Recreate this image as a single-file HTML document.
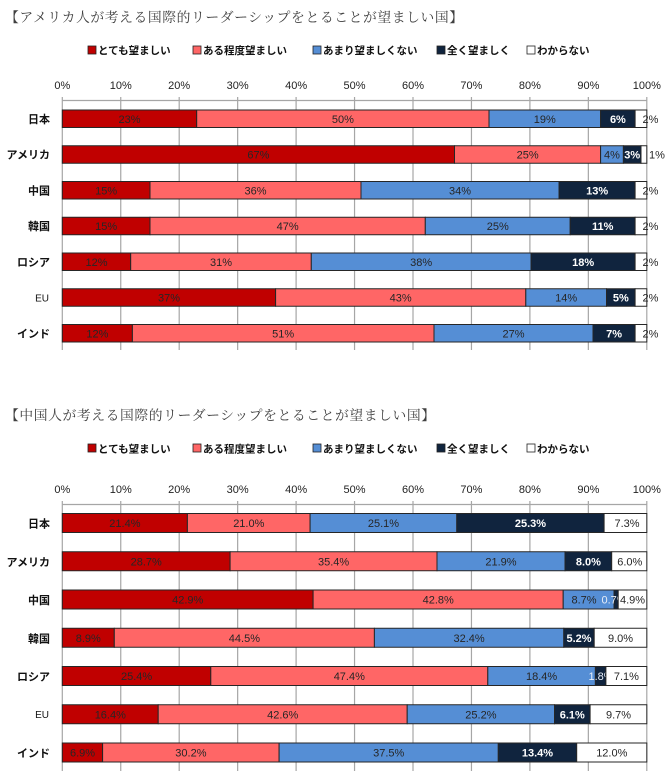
<!DOCTYPE html>
<html><head><meta charset="utf-8"><style>
html,body{margin:0;padding:0;background:#fff;width:670px;height:784px;overflow:hidden}
svg{display:block}
.t{font-family:"Noto Serif CJK SC","Noto Serif CJK JP",serif;font-size:13.8px;fill:#404040}
.lg{font-family:"Liberation Sans","Noto Sans CJK JP",sans-serif;font-size:10.5px;font-weight:bold;fill:#111}
.tk{font-family:"Liberation Sans",sans-serif;font-size:11px;fill:#222;text-anchor:middle}
.cat{font-family:"Liberation Sans","Noto Sans CJK JP",sans-serif;font-size:11px;font-weight:bold;fill:#111;text-anchor:end}
.eu{font-family:"Liberation Sans",sans-serif;font-size:10px;fill:#111;text-anchor:end}
.v{font-family:"Liberation Sans",sans-serif;font-size:11px;fill:#262626;text-anchor:middle}
.w{font-family:"Liberation Sans",sans-serif;font-size:11px;fill:#fff;font-weight:bold;text-anchor:middle}
.g{stroke:#a6a6a6;stroke-width:1.2}
.r{stroke:#262626;stroke-width:1}
</style></head><body>
<svg width="670" height="784" viewBox="0 0 670 784" xmlns="http://www.w3.org/2000/svg">
<!-- ===== TOP CHART ===== -->
<text x="5" y="22" class="t" textLength="458" lengthAdjust="spacing">【アメリカ人が考える国際的リーダーシップをとることが望ましい国】</text>
<g>
<rect x="88" y="46" width="8" height="8" fill="#C00000" stroke="#222" stroke-width="0.8"/><text x="98" y="54" class="lg">とても望ましい</text>
<rect x="193" y="46" width="8" height="8" fill="#FF6666" stroke="#222" stroke-width="0.8"/><text x="203" y="54" class="lg">ある程度望ましい</text>
<rect x="313" y="46" width="8" height="8" fill="#558ED5" stroke="#222" stroke-width="0.8"/><text x="323" y="54" class="lg">あまり望ましくない</text>
<rect x="437" y="46" width="8" height="8" fill="#10243E" stroke="#222" stroke-width="0.8"/><text x="447" y="54" class="lg">全く望ましく</text>
<rect x="527" y="46" width="8" height="8" fill="#fff" stroke="#222" stroke-width="0.8"/><text x="537" y="54" class="lg">わからない</text>
</g>
<g>
<text x="62.3" y="89" class="tk">0%</text><text x="120.75" y="89" class="tk">10%</text><text x="179.2" y="89" class="tk">20%</text><text x="237.65" y="89" class="tk">30%</text><text x="296.1" y="89" class="tk">40%</text><text x="354.55" y="89" class="tk">50%</text><text x="413" y="89" class="tk">60%</text><text x="471.45" y="89" class="tk">70%</text><text x="529.9" y="89" class="tk">80%</text><text x="588.35" y="89" class="tk">90%</text><text x="646.8" y="89" class="tk">100%</text>
</g>
<g class="g">
<line x1="62.3" y1="97" x2="62.3" y2="350"/><line x1="120.75" y1="97" x2="120.75" y2="350"/><line x1="179.2" y1="97" x2="179.2" y2="350"/><line x1="237.65" y1="97" x2="237.65" y2="350"/><line x1="296.1" y1="97" x2="296.1" y2="350"/><line x1="354.55" y1="97" x2="354.55" y2="350"/><line x1="413" y1="97" x2="413" y2="350"/><line x1="471.45" y1="97" x2="471.45" y2="350"/><line x1="529.9" y1="97" x2="529.9" y2="350"/><line x1="588.35" y1="97" x2="588.35" y2="350"/><line x1="646.8" y1="97" x2="646.8" y2="350"/>
<line x1="62.3" y1="100.5" x2="646.8" y2="100.5"/>
</g>
<text x="50" y="123" class="cat">日本</text>
<text x="50" y="158.5" class="cat">アメリカ</text>
<text x="50" y="194.5" class="cat">中国</text>
<text x="50" y="230" class="cat">韓国</text>
<text x="50" y="266" class="cat">ロシア</text>
<text x="49" y="301.5" class="eu">EU</text>
<text x="50" y="337.5" class="cat">インド</text>
<g class="r">
<rect x="62.3" y="110" width="134.4" height="17.5" fill="#C00000"/>
<rect x="196.7" y="110" width="292.3" height="17.5" fill="#FF6666"/>
<rect x="489" y="110" width="111.6" height="17.5" fill="#558ED5"/>
<rect x="600.6" y="110" width="34.5" height="17.5" fill="#10243E"/>
<rect x="635.1" y="110" width="11.7" height="17.5" fill="#fff"/>
</g>
<text x="129.5" y="122.75" class="v">23%</text><text x="342.9" y="122.75" class="v">50%</text><text x="544.8" y="122.75" class="v">19%</text><text x="617.9" y="122.75" class="w">6%</text><text x="650.5" y="122.75" class="v">2%</text>
<g class="r">
<rect x="62.3" y="145.75" width="392.2" height="17.5" fill="#C00000"/>
<rect x="454.5" y="145.75" width="146.1" height="17.5" fill="#FF6666"/>
<rect x="600.6" y="145.75" width="22.8" height="17.5" fill="#558ED5"/>
<rect x="623.4" y="145.75" width="17.6" height="17.5" fill="#10243E"/>
<rect x="641" y="145.75" width="5.8" height="17.5" fill="#fff"/>
</g>
<text x="258.4" y="158.5" class="v">67%</text><text x="527.6" y="158.5" class="v">25%</text><text x="612" y="158.5" class="v">4%</text><text x="632.2" y="158.5" class="w">3%</text><text x="657" y="158.5" class="v">1%</text>
<g class="r">
<rect x="62.3" y="181.5" width="87.7" height="17.5" fill="#C00000"/>
<rect x="150" y="181.5" width="211" height="17.5" fill="#FF6666"/>
<rect x="361" y="181.5" width="198.1" height="17.5" fill="#558ED5"/>
<rect x="559.1" y="181.5" width="76" height="17.5" fill="#10243E"/>
<rect x="635.1" y="181.5" width="11.7" height="17.5" fill="#fff"/>
</g>
<text x="106.1" y="194.25" class="v">15%</text><text x="255.5" y="194.25" class="v">36%</text><text x="460" y="194.25" class="v">34%</text><text x="597.1" y="194.25" class="w">13%</text><text x="650.5" y="194.25" class="v">2%</text>
<g class="r">
<rect x="62.3" y="217.25" width="87.7" height="17.5" fill="#C00000"/>
<rect x="150" y="217.25" width="275.3" height="17.5" fill="#FF6666"/>
<rect x="425.3" y="217.25" width="144.9" height="17.5" fill="#558ED5"/>
<rect x="570.2" y="217.25" width="64.9" height="17.5" fill="#10243E"/>
<rect x="635.1" y="217.25" width="11.7" height="17.5" fill="#fff"/>
</g>
<text x="106.1" y="230" class="v">15%</text><text x="287.6" y="230" class="v">47%</text><text x="497.8" y="230" class="v">25%</text><text x="602.7" y="230" class="w">11%</text><text x="650.5" y="230" class="v">2%</text>
<g class="r">
<rect x="62.3" y="253" width="68.4" height="17.5" fill="#C00000"/>
<rect x="130.7" y="253" width="180.6" height="17.5" fill="#FF6666"/>
<rect x="311.3" y="253" width="219.8" height="17.5" fill="#558ED5"/>
<rect x="531.1" y="253" width="104" height="17.5" fill="#10243E"/>
<rect x="635.1" y="253" width="11.7" height="17.5" fill="#fff"/>
</g>
<text x="96.5" y="265.75" class="v">12%</text><text x="221" y="265.75" class="v">31%</text><text x="421.2" y="265.75" class="v">38%</text><text x="583.1" y="265.75" class="w">18%</text><text x="650.5" y="265.75" class="v">2%</text>
<g class="r">
<rect x="62.3" y="288.75" width="213.3" height="17.5" fill="#C00000"/>
<rect x="275.6" y="288.75" width="250.2" height="17.5" fill="#FF6666"/>
<rect x="525.8" y="288.75" width="80.7" height="17.5" fill="#558ED5"/>
<rect x="606.5" y="288.75" width="28.6" height="17.5" fill="#10243E"/>
<rect x="635.1" y="288.75" width="11.7" height="17.5" fill="#fff"/>
</g>
<text x="169" y="301.5" class="v">37%</text><text x="400.7" y="301.5" class="v">43%</text><text x="566.2" y="301.5" class="v">14%</text><text x="620.8" y="301.5" class="w">5%</text><text x="650.5" y="301.5" class="v">2%</text>
<g class="r">
<rect x="62.3" y="324.5" width="70.1" height="17.5" fill="#C00000"/>
<rect x="132.4" y="324.5" width="301.6" height="17.5" fill="#FF6666"/>
<rect x="434" y="324.5" width="159" height="17.5" fill="#558ED5"/>
<rect x="593" y="324.5" width="42.1" height="17.5" fill="#10243E"/>
<rect x="635.1" y="324.5" width="11.7" height="17.5" fill="#fff"/>
</g>
<text x="97.4" y="337.25" class="v">12%</text><text x="283.2" y="337.25" class="v">51%</text><text x="513.5" y="337.25" class="v">27%</text><text x="614.1" y="337.25" class="w">7%</text><text x="650.5" y="337.25" class="v">2%</text>

<!-- ===== BOTTOM CHART ===== -->
<text x="5" y="420" class="t" textLength="430" lengthAdjust="spacing">【中国人が考える国際的リーダーシップをとることが望ましい国】</text>
<g>
<rect x="88" y="444" width="8" height="8" fill="#C00000" stroke="#222" stroke-width="0.8"/><text x="98" y="452.5" class="lg">とても望ましい</text>
<rect x="193" y="444" width="8" height="8" fill="#FF6666" stroke="#222" stroke-width="0.8"/><text x="203" y="452.5" class="lg">ある程度望ましい</text>
<rect x="313" y="444" width="8" height="8" fill="#558ED5" stroke="#222" stroke-width="0.8"/><text x="323" y="452.5" class="lg">あまり望ましくない</text>
<rect x="437" y="444" width="8" height="8" fill="#10243E" stroke="#222" stroke-width="0.8"/><text x="447" y="452.5" class="lg">全く望ましく</text>
<rect x="527" y="444" width="8" height="8" fill="#fff" stroke="#222" stroke-width="0.8"/><text x="537" y="452.5" class="lg">わからない</text>
</g>
<g>
<text x="62.3" y="493" class="tk">0%</text><text x="120.75" y="493" class="tk">10%</text><text x="179.2" y="493" class="tk">20%</text><text x="237.65" y="493" class="tk">30%</text><text x="296.1" y="493" class="tk">40%</text><text x="354.55" y="493" class="tk">50%</text><text x="413" y="493" class="tk">60%</text><text x="471.45" y="493" class="tk">70%</text><text x="529.9" y="493" class="tk">80%</text><text x="588.35" y="493" class="tk">90%</text><text x="646.8" y="493" class="tk">100%</text>
</g>
<g class="g">
<line x1="62.3" y1="501" x2="62.3" y2="771"/><line x1="120.75" y1="501" x2="120.75" y2="771"/><line x1="179.2" y1="501" x2="179.2" y2="771"/><line x1="237.65" y1="501" x2="237.65" y2="771"/><line x1="296.1" y1="501" x2="296.1" y2="771"/><line x1="354.55" y1="501" x2="354.55" y2="771"/><line x1="413" y1="501" x2="413" y2="771"/><line x1="471.45" y1="501" x2="471.45" y2="771"/><line x1="529.9" y1="501" x2="529.9" y2="771"/><line x1="588.35" y1="501" x2="588.35" y2="771"/><line x1="646.8" y1="501" x2="646.8" y2="771"/>
<line x1="62.3" y1="504.5" x2="646.8" y2="504.5"/>
</g>
<text x="50" y="527.5" class="cat">日本</text>
<text x="50" y="565.75" class="cat">アメリカ</text>
<text x="50" y="604" class="cat">中国</text>
<text x="50" y="642.25" class="cat">韓国</text>
<text x="50" y="680.5" class="cat">ロシア</text>
<text x="49" y="718" class="eu">EU</text>
<text x="50" y="757" class="cat">インド</text>
<g class="r">
<rect x="62.3" y="513.5" width="125.1" height="19" fill="#C00000"/>
<rect x="187.4" y="513.5" width="122.7" height="19" fill="#FF6666"/>
<rect x="310.1" y="513.5" width="146.7" height="19" fill="#558ED5"/>
<rect x="456.8" y="513.5" width="147.3" height="19" fill="#10243E"/>
<rect x="604.1" y="513.5" width="42.7" height="19" fill="#fff"/>
</g>
<text x="124.9" y="527" class="v">21.4%</text><text x="248.8" y="527" class="v">21.0%</text><text x="383.5" y="527" class="v">25.1%</text><text x="530.5" y="527" class="w">25.3%</text><text x="627" y="527" class="v">7.3%</text>
<g class="r">
<rect x="62.3" y="551.75" width="167.8" height="19" fill="#C00000"/>
<rect x="230.1" y="551.75" width="206.9" height="19" fill="#FF6666"/>
<rect x="437" y="551.75" width="128" height="19" fill="#558ED5"/>
<rect x="565" y="551.75" width="46.7" height="19" fill="#10243E"/>
<rect x="611.7" y="551.75" width="35.1" height="19" fill="#fff"/>
</g>
<text x="146.2" y="565.25" class="v">28.7%</text><text x="333.6" y="565.25" class="v">35.4%</text><text x="501" y="565.25" class="v">21.9%</text><text x="588.4" y="565.25" class="w">8.0%</text><text x="629.8" y="565.25" class="v">6.0%</text>
<g class="r">
<rect x="62.3" y="590" width="250.8" height="19" fill="#C00000"/>
<text x="187.7" y="603.5" class="v" stroke="none">42.9%</text>
<rect x="313.1" y="590" width="250.1" height="19" fill="#FF6666"/>
<text x="438.2" y="603.5" class="v" stroke="none">42.8%</text>
<rect x="563.2" y="590" width="50.9" height="19" fill="#558ED5"/>
<text x="584" y="603.5" class="v" stroke="none">8.7%</text>
<rect x="614.1" y="590" width="4.1" height="19" fill="#10243E"/>
<text x="614" y="603.5" class="w" stroke="none" style="font-weight:normal;fill:#e8eef8">0.7%</text>
<rect x="618.2" y="590" width="28.6" height="19" fill="#fff"/>
</g>
<text x="632.5" y="603.5" class="v">4.9%</text>
<g class="r">
<rect x="62.3" y="628.25" width="52" height="19" fill="#C00000"/>
<rect x="114.3" y="628.25" width="260.1" height="19" fill="#FF6666"/>
<rect x="374.4" y="628.25" width="189.4" height="19" fill="#558ED5"/>
<rect x="563.8" y="628.25" width="30.4" height="19" fill="#10243E"/>
<rect x="594.2" y="628.25" width="52.6" height="19" fill="#fff"/>
</g>
<text x="88.3" y="641.75" class="v">8.9%</text><text x="244.4" y="641.75" class="v">44.5%</text><text x="469.1" y="641.75" class="v">32.4%</text><text x="579" y="641.75" class="w">5.2%</text><text x="620.5" y="641.75" class="v">9.0%</text>
<g class="r">
<rect x="62.3" y="666.5" width="148.5" height="19" fill="#C00000"/>
<rect x="210.8" y="666.5" width="277" height="19" fill="#FF6666"/>
<rect x="487.8" y="666.5" width="107.6" height="19" fill="#558ED5"/>
<text x="541.6" y="680" class="v" stroke="none">18.4%</text>
<rect x="595.4" y="666.5" width="10.5" height="19" fill="#10243E"/>
<text x="601" y="680" class="w" stroke="none" style="font-weight:normal;fill:#e8eef8">1.8%</text>
<rect x="605.9" y="666.5" width="40.9" height="19" fill="#fff"/>
</g>
<text x="136.6" y="680" class="v">25.4%</text><text x="349.3" y="680" class="v">47.4%</text><text x="626.4" y="680" class="v">7.1%</text>
<g class="r">
<rect x="62.3" y="704.75" width="95.9" height="19" fill="#C00000"/>
<rect x="158.2" y="704.75" width="249" height="19" fill="#FF6666"/>
<rect x="407.2" y="704.75" width="147.3" height="19" fill="#558ED5"/>
<rect x="554.5" y="704.75" width="35.6" height="19" fill="#10243E"/>
<rect x="590.1" y="704.75" width="56.7" height="19" fill="#fff"/>
</g>
<text x="110.3" y="718.25" class="v">16.4%</text><text x="282.7" y="718.25" class="v">42.6%</text><text x="480.9" y="718.25" class="v">25.2%</text><text x="572.3" y="718.25" class="w">6.1%</text><text x="618.5" y="718.25" class="v">9.7%</text>
<g class="r">
<rect x="62.3" y="743" width="40.3" height="19" fill="#C00000"/>
<rect x="102.6" y="743" width="176.5" height="19" fill="#FF6666"/>
<rect x="279.1" y="743" width="219.2" height="19" fill="#558ED5"/>
<rect x="498.3" y="743" width="78.4" height="19" fill="#10243E"/>
<rect x="576.7" y="743" width="70.1" height="19" fill="#fff"/>
</g>
<text x="82.5" y="756.5" class="v">6.9%</text><text x="190.9" y="756.5" class="v">30.2%</text><text x="388.7" y="756.5" class="v">37.5%</text><text x="537.5" y="756.5" class="w">13.4%</text><text x="611.8" y="756.5" class="v">12.0%</text>
</svg>
</body></html>
